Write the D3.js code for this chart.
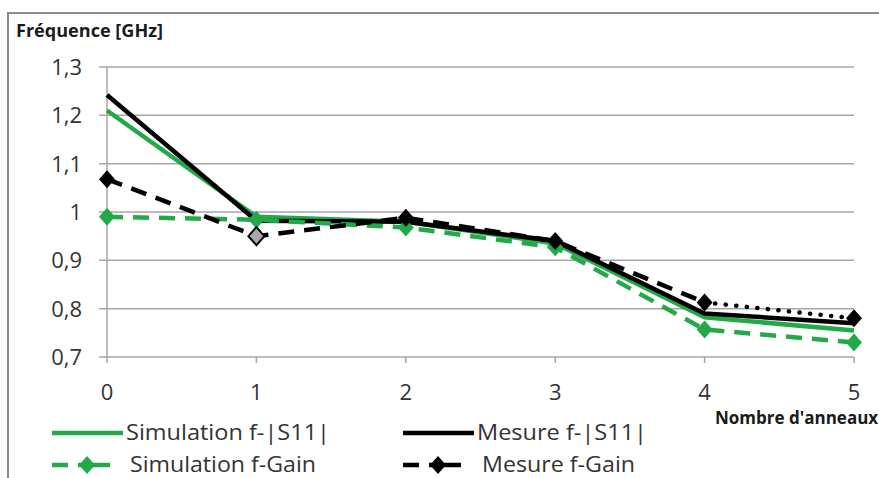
<!DOCTYPE html>
<html>
<head>
<meta charset="utf-8">
<script src="https://cdn.jsdelivr.net/npm/d3@7"></script>
<style>
  html, body { margin: 0; padding: 0; background: #fff; }
  svg { display: block; }
  text { font-family: "Open Sans", sans-serif; }
</style>
</head>
<body>
<svg id="chart" width="879" height="478"></svg>
<script>
// ---- data ----
const rings = [0, 1, 2, 3, 4, 5];
const simS11 = [1.21, 0.99, 0.98, 0.935, 0.782, 0.755];
const mesS11 = [1.242, 0.982, 0.98, 0.94, 0.79, 0.77];
const simGain = [0.99, 0.984, 0.968, 0.927, 0.757, 0.73];
const mesGain = [1.068, 0.95, 0.988, 0.94, 0.813, 0.78];
const yTicks = [0.7, 0.8, 0.9, 1.0, 1.1, 1.2, 1.3];
const yLabels = ["0,7", "0,8", "0,9", "1", "1,1", "1,2", "1,3"];
const seriesNames = ["Simulation f-|S11|", "Mesure f-|S11|", "Simulation f-Gain", "Mesure f-Gain"];
const yTitle = "Fréquence [GHz]";
const xTitle = "Nombre d'anneaux";

const GREEN = "#22aa4a";
const BLACK = "#000000";
const GRID = "#a6a6a6";
const TXT = "#333333";

const svg = d3.select("#chart");

// frame
svg.append("path").attr("d", "M8,478 L8,13 L879,13")
  .attr("fill", "none").attr("stroke", "#8c8c8c").attr("stroke-width", 2);

const x = d3.scaleLinear().domain([0, 5]).range([107, 854]);
const y = d3.scaleLinear().domain([0.7, 1.3]).range([357, 67]);

// gridlines + y ticks
svg.append("g").selectAll("line").data(yTicks).join("line")
  .attr("x1", 99).attr("x2", x(5))
  .attr("y1", d => y(d)).attr("y2", d => y(d))
  .attr("stroke", GRID).attr("stroke-width", 1.5);

// y axis line
svg.append("line").attr("x1", x(0)).attr("x2", x(0)).attr("y1", y(1.3)).attr("y2", y(0.7))
  .attr("stroke", GRID).attr("stroke-width", 1.5);

// x ticks
svg.append("g").selectAll("line").data(rings).join("line")
  .attr("x1", d => x(d)).attr("x2", d => x(d))
  .attr("y1", y(0.7)).attr("y2", y(0.7) + 6)
  .attr("stroke", GRID).attr("stroke-width", 1.5);

// y labels
svg.append("g").selectAll("text").data(yTicks).join("text")
  .attr("x", 82).attr("y", d => y(d) + 8)
  .attr("text-anchor", "end").attr("font-size", 22).attr("fill", TXT)
  .text((d, i) => yLabels[i]);

// x labels
svg.append("g").selectAll("text").data(rings).join("text")
  .attr("x", d => x(d)).attr("y", 400)
  .attr("text-anchor", "middle").attr("font-size", 22).attr("fill", TXT)
  .text(d => d);

// titles
svg.append("text").attr("x", 16).attr("y", 37)
  .attr("font-size", 17).attr("font-weight", "bold").attr("fill", "#1a1a1a")
  .attr("textLength", 147).attr("lengthAdjust", "spacingAndGlyphs")
  .text(yTitle);
svg.append("text").attr("x", 715).attr("y", 424)
  .attr("font-size", 17).attr("font-weight", "bold").attr("fill", "#1a1a1a")
  .text(xTitle);

const line = d3.line().x(d => x(d[0])).y(d => y(d[1]));
const pts = arr => rings.map((r, i) => [r, arr[i]]);
const diamond = "M0,-9 L8,0 L0,9 L-8,0 Z";

// series lines
svg.append("path").attr("d", line(pts(simS11)))
  .attr("fill", "none").attr("stroke", GREEN).attr("stroke-width", 4.5);
svg.append("path").attr("d", line(pts(mesS11)))
  .attr("fill", "none").attr("stroke", BLACK).attr("stroke-width", 4.5);
svg.append("path").attr("d", line(pts(simGain)))
  .attr("fill", "none").attr("stroke", GREEN).attr("stroke-width", 4.5)
  .attr("stroke-dasharray", "16,10");
svg.append("path").attr("d", line(pts(mesGain).slice(0, 5)))
  .attr("fill", "none").attr("stroke", BLACK).attr("stroke-width", 4.5)
  .attr("stroke-dasharray", "16,10");
svg.append("path").attr("d", line(pts(mesGain).slice(4, 6)))
  .attr("fill", "none").attr("stroke", BLACK).attr("stroke-width", 4.5)
  .attr("stroke-linecap", "round").attr("stroke-dasharray", "0.1,10.5");

// markers
svg.append("g").selectAll("path").data(pts(simGain)).join("path")
  .attr("d", diamond).attr("transform", d => `translate(${x(d[0])},${y(d[1])})`)
  .attr("fill", GREEN);
svg.append("g").selectAll("path").data(pts(mesGain)).join("path")
  .attr("d", diamond).attr("transform", d => `translate(${x(d[0])},${y(d[1])})`)
  .attr("fill", (d, i) => i === 1 ? "#a8a8a8" : BLACK)
  .attr("stroke", BLACK).attr("stroke-width", (d, i) => i === 1 ? 2 : 0);

// legend
const legend = [
  { name: seriesNames[0], color: GREEN, dash: false, lx: 52, ly: 433, tx: 126, tw: 204 },
  { name: seriesNames[1], color: BLACK, dash: false, lx: 403, ly: 433, tx: 477, tw: 170 },
  { name: seriesNames[2], color: GREEN, dash: true, lx: 52, ly: 465, tx: 130, tw: 186 },
  { name: seriesNames[3], color: BLACK, dash: true, lx: 403, ly: 465, tx: 482, tw: 153 }
];
const lg = svg.append("g");
legend.forEach(e => {
  if (!e.dash) {
    lg.append("line").attr("x1", e.lx).attr("x2", e.lx + 71).attr("y1", e.ly).attr("y2", e.ly)
      .attr("stroke", e.color).attr("stroke-width", 4.5);
  } else {
    lg.append("line").attr("x1", e.lx).attr("x2", e.lx + 58).attr("y1", e.ly).attr("y2", e.ly)
      .attr("stroke", e.color).attr("stroke-width", 4.5).attr("stroke-dasharray", "16,10,40");
    lg.append("path").attr("d", diamond).attr("transform", `translate(${e.lx + 35},${e.ly})`)
      .attr("fill", e.color);
  }
  lg.append("text").attr("x", e.tx).attr("y", e.ly + 7)
    .attr("font-size", 21).attr("fill", TXT)
    .attr("textLength", e.tw).attr("lengthAdjust", "spacingAndGlyphs")
    .text(e.name);
});
</script>
</body>
</html>
